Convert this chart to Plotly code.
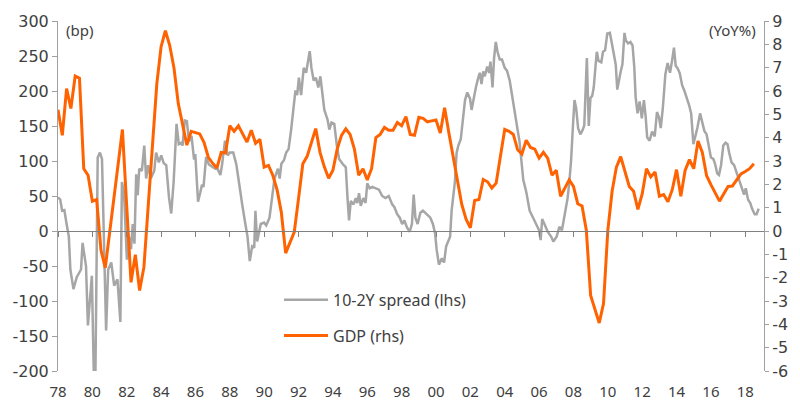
import plotly.graph_objects as go

# ---- data -------------------------------------------------------------
# 10-2Y spread (bp) at its turning points (decimal years)
spread_t = [
    1978.00, 1978.13, 1978.24, 1978.37, 1978.50, 1978.63, 1978.72, 1978.90, 1979.09, 1979.34,
    1979.43, 1979.63, 1979.74, 1979.87, 1979.97, 1980.08, 1980.18, 1980.31, 1980.44, 1980.56,
    1980.80, 1980.92, 1981.10, 1981.27, 1981.46, 1981.63, 1981.72, 1981.84, 1982.01, 1982.13,
    1982.25, 1982.35, 1982.45, 1982.55, 1982.64, 1982.73, 1982.88, 1983.02, 1983.13, 1983.25,
    1983.40, 1983.60, 1983.71, 1983.87, 1984.01, 1984.15, 1984.30, 1984.46, 1984.59, 1984.73,
    1984.90, 1985.03, 1985.18, 1985.25, 1985.38, 1985.50, 1985.62, 1985.77, 1985.92, 1985.99,
    1986.15, 1986.28, 1986.38, 1986.47, 1986.62, 1986.78, 1986.95, 1987.14, 1987.30, 1987.45,
    1987.55, 1987.72, 1987.87, 1988.00, 1988.20, 1988.38, 1988.50, 1988.62, 1988.72, 1988.87,
    1989.03, 1989.16, 1989.30, 1989.42, 1989.49, 1989.59, 1989.68, 1989.80, 1989.99, 1990.12,
    1990.31, 1990.45, 1990.60, 1990.80, 1990.90, 1991.00, 1991.15, 1991.28, 1991.42, 1991.57,
    1991.73, 1991.82, 1991.92, 1992.02, 1992.15, 1992.30, 1992.44, 1992.65, 1992.75, 1992.88,
    1993.01, 1993.15, 1993.27, 1993.38, 1993.50, 1993.69, 1993.79, 1993.92, 1994.08, 1994.23,
    1994.36, 1994.56, 1994.75, 1994.85, 1994.94, 1995.04, 1995.20, 1995.33, 1995.42, 1995.52,
    1995.62, 1995.77, 1995.90, 1996.00, 1996.14, 1996.29, 1996.49, 1996.68, 1996.87, 1997.06,
    1997.25, 1997.45, 1997.58, 1997.74, 1997.89, 1998.03, 1998.16, 1998.31, 1998.47, 1998.60,
    1998.70, 1998.80, 1998.93, 1999.09, 1999.24, 1999.43, 1999.67, 1999.82, 1999.95, 2000.04,
    2000.17, 2000.34, 2000.47, 2000.59, 2000.72, 2000.82, 2000.91, 2001.00, 2001.10, 2001.20,
    2001.30, 2001.44, 2001.59, 2001.69, 2001.82, 2001.98, 2002.07, 2002.17, 2002.32, 2002.46,
    2002.55, 2002.65, 2002.75, 2002.84, 2002.98, 2003.09, 2003.17, 2003.29, 2003.38, 2003.48,
    2003.58, 2003.71, 2003.84, 2004.00, 2004.13, 2004.29, 2004.45, 2004.58, 2004.72, 2004.86,
    2004.97, 2005.08, 2005.26, 2005.45, 2005.65, 2005.84, 2006.00, 2006.09, 2006.18, 2006.31,
    2006.50, 2006.70, 2006.83, 2007.02, 2007.18, 2007.33, 2007.46, 2007.57, 2007.66, 2007.76,
    2007.86, 2007.97, 2008.06, 2008.16, 2008.27, 2008.40, 2008.53, 2008.63, 2008.78, 2008.89,
    2008.99, 2009.09, 2009.18, 2009.30, 2009.36, 2009.46, 2009.62, 2009.72, 2009.84, 2009.97,
    2010.12, 2010.22, 2010.36, 2010.46, 2010.55, 2010.65, 2010.75, 2010.85, 2010.97, 2011.05,
    2011.18, 2011.32, 2011.44, 2011.54, 2011.62, 2011.73, 2011.85, 2011.98, 2012.10, 2012.20,
    2012.29, 2012.43, 2012.58, 2012.73, 2012.86, 2012.98, 2013.08, 2013.20, 2013.35, 2013.48,
    2013.62, 2013.73, 2013.85, 2013.95, 2014.05, 2014.18, 2014.33, 2014.46, 2014.60, 2014.73,
    2014.85, 2014.92, 2014.98, 2015.08, 2015.21, 2015.37, 2015.50, 2015.62, 2015.75, 2015.89,
    2016.00, 2016.14, 2016.24, 2016.37, 2016.47, 2016.59, 2016.72, 2016.85, 2016.97, 2017.06,
    2017.20, 2017.35, 2017.49, 2017.62, 2017.77, 2017.93, 2018.03, 2018.16, 2018.29, 2018.41,
    2018.55, 2018.66, 2018.78,
]
spread_bp = [
    48, 45, 29, 30, 10, -8, -55, -83, -66, -55,
    -17, -50, -135, -93, -64, -199, -199, 105, 112, 103,
    -142, -55, -45, -78, -69, -130, 70, 55, -41, -8,
    -26, 10, -18, 81, 51, 89, 86, 122, 75, 94,
    75, 86, 112, 98, 108, 97, 94, 48, 25, 70,
    153, 124, 126, 122, 158, 157, 128, 136, 102, 110,
    42, 55, 66, 63, 106, 95, 92, 89, 88, 80,
    95, 129, 108, 112, 112, 95, 75, 50, 38, 15,
    -8, -43, -22, -24, 29, -15, -5, 10, 12, 8,
    19, 48, 75, 89, 75, 96, 101, 112, 117, 145,
    187, 201, 194, 219, 194, 233, 226, 257, 233, 215,
    219, 205, 221, 195, 173, 159, 145, 155, 153, 122,
    103, 96, 91, 47, 15, 43, 38, 47, 40, 54,
    36, 47, 40, 68, 61, 63, 61, 59, 50, 47,
    50, 38, 34, 24, 19, 10, 15, 5, -1, 10,
    52, 19, 10, 26, 29, 25, 19, 10, -4, -27,
    -48, -39, -45, -22, -15, -8, 29, 52, 70, 112,
    122, 131, 163, 187, 198, 189, 173, 187, 205, 219,
    226, 210, 228, 221, 235, 226, 242, 205, 247, 270,
    256, 245, 245, 233, 229, 215, 189, 166, 149, 128,
    100, 73, 55, 29, 19, 10, 1, -13, 17, 10,
    -1, -8, -15, -8, 6, 1, 19, 40, 47, 70,
    100, 150, 187, 175, 147, 138, 144, 151, 247, 150,
    190, 193, 205, 240, 256, 243, 241, 256, 258, 282,
    283, 270, 250, 238, 202, 217, 228, 238, 283, 272,
    268, 270, 265, 234, 191, 168, 185, 161, 187, 164,
    134, 129, 142, 135, 170, 162, 147, 175, 224, 240,
    226, 242, 262, 236, 233, 226, 208, 200, 191, 180,
    168, 145, 124, 134, 147, 168, 154, 143, 138, 122,
    105, 103, 96, 82, 80, 94, 122, 126, 124, 112,
    98, 94, 84, 75, 64, 52, 61, 45, 40, 31,
    24, 24, 32,
]

# GDP YoY % (quarterly, starting 1978.0, 4 per year)
gdp_start = 1978.0
gdp_pct = [
    5.20, 4.10, 6.10, 5.25,   # 1978
    6.64, 6.55, 2.67, 2.39,   # 1979
    1.28, 1.35, -0.81, -1.58, # 1980
    -0.10, 1.40, 2.90, 4.35,  # 1981
    1.05, -2.20, -1.02, -2.55,  # 1982
    -1.55, 1.10, 3.90, 6.30,  # 1983
    7.90, 8.59, 7.96, 6.99,   # 1984
    5.46, 4.62, 3.68, 4.27,   # 1985
    4.22, 4.16, 3.79, 3.16,   # 1986
    2.90, 2.70, 3.37, 3.34,   # 1987
    4.51, 4.27, 4.51, 4.14,   # 1988
    3.81, 4.32, 3.76, 3.93,   # 1989
    2.74, 2.81, 2.39, 1.77,   # 1990
    0.79, -0.95, -0.50, -0.05,  # 1991
    1.40, 2.88, 3.20, 3.80,   # 1992
    4.39, 3.37, 2.75, 2.26,   # 1993
    2.60, 3.51, 4.10, 4.38,   # 1994
    4.14, 3.51, 2.39, 2.67,   # 1995
    2.19, 2.67, 4.00, 4.14,   # 1996
    4.44, 4.32, 4.32, 4.65,   # 1997
    4.51, 4.90, 4.14, 4.10,   # 1998
    4.87, 4.83, 4.68, 4.72,   # 1999
    4.76, 4.20, 5.28, 4.20,   # 2000
    3.23, 2.11, 1.14, 0.51,   # 2001
    0.14, 1.31, 1.35, 2.21,   # 2002
    2.11, 1.84, 2.05, 3.20,   # 2003
    4.35, 4.27, 4.14, 3.48,   # 2004
    3.30, 3.89, 3.58, 3.51,   # 2005
    3.12, 3.37, 3.12, 2.39,   # 2006
    2.60, 1.49, 1.85, 2.19,   # 2007
    1.91, 1.17, 1.07, 0.03,   # 2008
    -2.76, -3.35, -3.94, -3.11,  # 2009
    0.03, 1.70, 2.74, 3.19,   # 2010
    2.53, 1.91, 1.70, 0.93,   # 2011
    1.59, 2.67, 2.32, 2.53,   # 2012
    1.49, 1.56, 1.25, 1.77,   # 2013
    2.63, 1.49, 2.60, 3.06,   # 2014
    2.67, 3.86, 3.37, 2.37,   # 2015
    1.99, 1.61, 1.28, 1.60,   # 2016
    1.91, 1.93, 2.19, 2.45,   # 2017
    2.55, 2.67, 2.88,         # 2018
]
gdp_t = [gdp_start + i / 4 for i in range(len(gdp_pct))]

tick_years = list(range(1978, 2019, 2))
tick_text = ["78", "80", "82", "84", "86", "88", "90", "92", "94", "96", "98",
             "00", "02", "04", "06", "08", "10", "12", "14", "16", "18"]
lhs_ticks = [-200, -150, -100, -50, 0, 50, 100, 150, 200, 250, 300]
lhs_text = ["-200", "-150", "-100", "-50", "0", "50", "100", "150", "200", "250", "300"]
rhs_ticks = [-6, -5, -4, -3, -2, -1, 0, 1, 2, 3, 4, 5, 6, 7, 8, 9]
rhs_text = ["-6", "-5", "-4", "-3", "-2", "-1", "0", "1", "2", "3", "4", "5", "6", "7", "8", "9"]

# ---- style --------------------------------------------------------------
GREY = "#A6A6A6"
ORANGE = "#FF6200"
AXIS = "#A0A0A0"
TXT = "#404040"
FONT = "Noto Sans"
YFONT = "DejaVu Sans"
XR = [1978.0, 2019.09]

fig = go.Figure()
fig.add_trace(go.Scatter(
    x=spread_t, y=spread_bp, mode="lines", name="10-2Y spread (lhs)",
    line=dict(color=GREY, width=2.5), xaxis="x", yaxis="y",
    legendgroup="a", hoverinfo="skip"))
fig.add_trace(go.Scatter(
    x=gdp_t, y=gdp_pct, mode="lines", name="GDP (rhs)",
    line=dict(color=ORANGE, width=3), xaxis="x2", yaxis="y2",
    legendgroup="b", hoverinfo="skip"))

fig.update_layout(
    width=800, height=414, autosize=False,
    margin=dict(l=55, r=34, t=12, b=43, pad=0),
    paper_bgcolor="white", plot_bgcolor="white",
    font=dict(family=FONT, size=15, color=TXT),
    showlegend=True,
    legend=dict(x=0.313, y=0.252, xanchor="left", yanchor="top",
                traceorder="grouped", tracegroupgap=12,
                font=dict(size=16, color=TXT), bgcolor="rgba(0,0,0,0)",
                itemwidth=44),
    xaxis=dict(range=XR, tickvals=tick_years, ticktext=tick_text,
               showline=False, ticks="", showgrid=False, zeroline=False,
               ticklabelstandoff=10, tickfont=dict(size=15, color=TXT)),
    xaxis2=dict(range=XR, overlaying="x", anchor="free", position=0.4,
                side="bottom", tickvals=tick_years, showticklabels=False,
                showline=True, linecolor="#808080", linewidth=1,
                ticks="outside", ticklen=5, tickcolor="#808080",
                showgrid=False, zeroline=False),
    yaxis=dict(range=[-200, 300], tickvals=lhs_ticks, ticktext=lhs_text,
               showline=True, linecolor=AXIS, linewidth=1,
               ticks="outside", ticklen=5, tickcolor=AXIS,
               showgrid=False, zeroline=False,
               tickfont=dict(family=YFONT, size=16, color=TXT)),
    yaxis2=dict(range=[-6, 9], tickvals=rhs_ticks, ticktext=rhs_text,
                overlaying="y", side="right", anchor="x2",
                showline=True, linecolor=AXIS, linewidth=1,
                ticks="outside", ticklen=4, tickcolor=AXIS,
                showgrid=False, zeroline=False,
                tickfont=dict(family=YFONT, size=16, color=TXT)),
    annotations=[
        dict(text="(bp)", xref="paper", yref="paper", x=0.009, y=0.975,
             xanchor="left", yanchor="middle", showarrow=False,
             font=dict(size=15, color=TXT)),
        dict(text="(YoY%)", xref="paper", yref="paper", x=0.991, y=0.975,
             xanchor="right", yanchor="middle", showarrow=False,
             font=dict(size=15, color=TXT)),
    ],
)

fig.write_html("out.html")
